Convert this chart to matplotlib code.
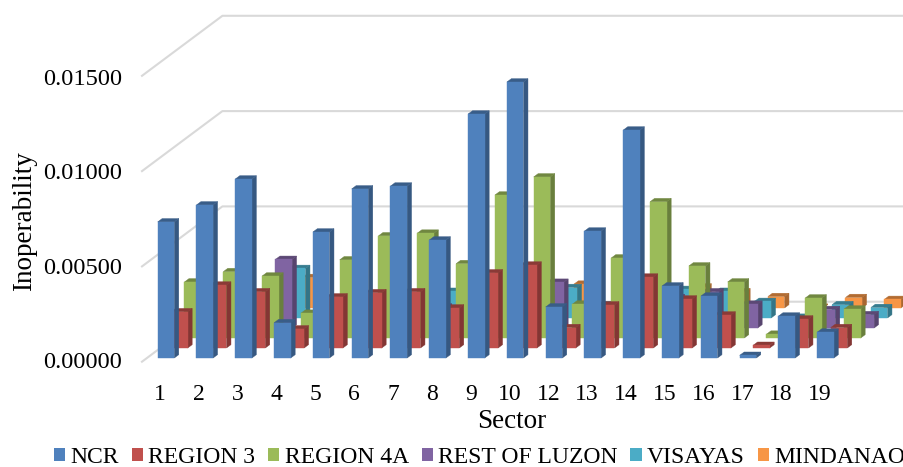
import matplotlib
matplotlib.use("Agg")
import matplotlib.pyplot as plt
import numpy as np
from matplotlib.colors import to_rgb
from matplotlib.patches import Patch

# sectors (11 is missing in the source chart)
sectors = ["1", "2", "3", "4", "5", "6", "7", "8", "9", "10", "12", "13", "14", "15", "16", "17", "18", "19"]

ncr = [0.00714, 0.00803, 0.00939, 0.00185, 0.00661, 0.00887, 0.00902, 0.00619, 0.01280,
       0.01448, 0.00268, 0.00666, 0.01196, 0.00378, 0.00325, 0.00014, 0.00220, 0.00136]
region3 = [0.00190, 0.00330, 0.00295, 0.00100, 0.00268, 0.00290, 0.00295, 0.00210, 0.00394,
           0.00435, 0.00107, 0.00226, 0.00372, 0.00257, 0.00173, 0.00014, 0.00152, 0.00107]
region4a = [0.00294, 0.00348, 0.00325, 0.00130, 0.00410, 0.00536, 0.00550, 0.00390, 0.00750,
            0.00845, 0.00178, 0.00420, 0.00715, 0.00378, 0.00294, 0.00020, 0.00210, 0.00152]
rest_luzon = [0.00080, 0.00090, 0.00360, 0.00100, 0.00100, 0.00100, 0.00110, 0.00100, 0.00120,
              0.00240, 0.00090, 0.00100, 0.00160, 0.00190, 0.00125, 0.00004, 0.00097, 0.00070]
visayas = [0.00060, 0.00070, 0.00260, 0.00070, 0.00080, 0.00090, 0.00140, 0.00080, 0.00100,
           0.00160, 0.00070, 0.00080, 0.00150, 0.00140, 0.00087, 0.00004, 0.00070, 0.00055]
mindanao = [0.00040, 0.00050, 0.00160, 0.00050, 0.00050, 0.00060, 0.00080, 0.00060, 0.00070,
            0.00125, 0.00050, 0.00060, 0.00110, 0.00085, 0.00060, 0.00004, 0.00055, 0.00045]

series_names = ["NCR", "REGION 3", "REGION 4A", "REST OF LUZON", "VISAYAS", "MINDANAO"]
series_values = [ncr, region3, region4a, rest_luzon, visayas, mindanao]
colors = ["#4F81BD", "#C0504D", "#9BBB59", "#8064A2", "#4BACC6", "#F79646"]
y_ticks = [0.0, 0.005, 0.01, 0.015]

plt.rcParams["font.family"] = ["Liberation Serif", "DejaVu Serif"]

# one axes over the whole figure, x in sector steps and y in inoperability
px_per_cat = 38.8
px_per_val = 19060.0
fig = plt.figure(figsize=(9.04, 4.67), dpi=100)
ax = fig.add_axes([0, 0, 1, 1])
x_min = -157.7 / px_per_cat
y_min = -(467 - 358) / px_per_val
x_max = x_min + 904 / px_per_cat
ax.set_xlim(x_min, x_max)
ax.set_ylim(y_min, y_min + 467 / px_per_val)
ax.axis("off")

# oblique projection: each series sits one step further back
step_x = 13.4 / px_per_cat
step_y = 10.0 / px_per_val
bar_w = 16.6 / px_per_cat
depth = 1 / 3
corner_x = -15.7 / px_per_cat
corner_y = -3.7 / px_per_val


def shade(color, factor):
    return tuple(c * factor for c in to_rgb(color))


def draw_bar(x, base, height, color, order):
    dx = step_x * depth
    dy = step_y * depth
    top = base + height
    front = [(x, base), (x + bar_w, base), (x + bar_w, top), (x, top)]
    side = [(x + bar_w, base), (x + bar_w + dx, base + dy), (x + bar_w + dx, top + dy), (x + bar_w, top)]
    cap = [(x, top), (x + bar_w, top), (x + bar_w + dx, top + dy), (x + dx, top + dy)]
    for pts, col in [(side, shade(color, 0.68)), (cap, shade(color, 0.72)), (front, color)]:
        xs, ys = zip(*pts)
        ax.fill(xs, ys, color=col, lw=0.3, zorder=order)


# back wall and the stubs going to the front
x_back = corner_x + 6 * step_x
for v in y_ticks:
    wall = v + corner_y + 6 * step_y
    ax.plot([corner_x, x_back, x_max], [v + corner_y, wall, wall], color="#D9D9D9", lw=1.5, zorder=1)
    # labels are spaced a little tighter than the gridlines in the original
    label_y = v * 0.99 - 4.5 / px_per_val
    ax.text(-35.5 / px_per_cat, label_y, f"{v:.5f}", ha="right", va="center", fontsize=17.6, color="black")

# back row first so the front bars cover it
order = 2
for k in range(len(series_values) - 1, -1, -1):
    for i, val in enumerate(series_values[k]):
        draw_bar(i + k * step_x, k * step_y, val, colors[k], order)
        order += 1

# sector labels and axis titles
for i, name in enumerate(sectors):
    ax.text(i + bar_w / 2 - 5.7 / px_per_cat, -37 / px_per_val, name, ha="center", va="center", fontsize=17)
ax.text(9.13, -64 / px_per_val, "Sector", ha="center", va="center", fontsize=19.5)
ax.text(-133.5 / px_per_cat, 0.0072, "Inoperability", rotation=90, ha="center", va="center", fontsize=19.5)

handles = [Patch(facecolor=c, label=n) for c, n in zip(colors, series_names)]
ax.legend(handles=handles, ncol=6, loc="center", bbox_to_anchor=(0.5305, 9.5 / 467), frameon=False,
          fontsize=17, handlelength=0.47, handleheight=0.47, handletextpad=0.22, columnspacing=0.55,
          borderpad=0, borderaxespad=0)

fig.savefig("out.png", dpi=100)
